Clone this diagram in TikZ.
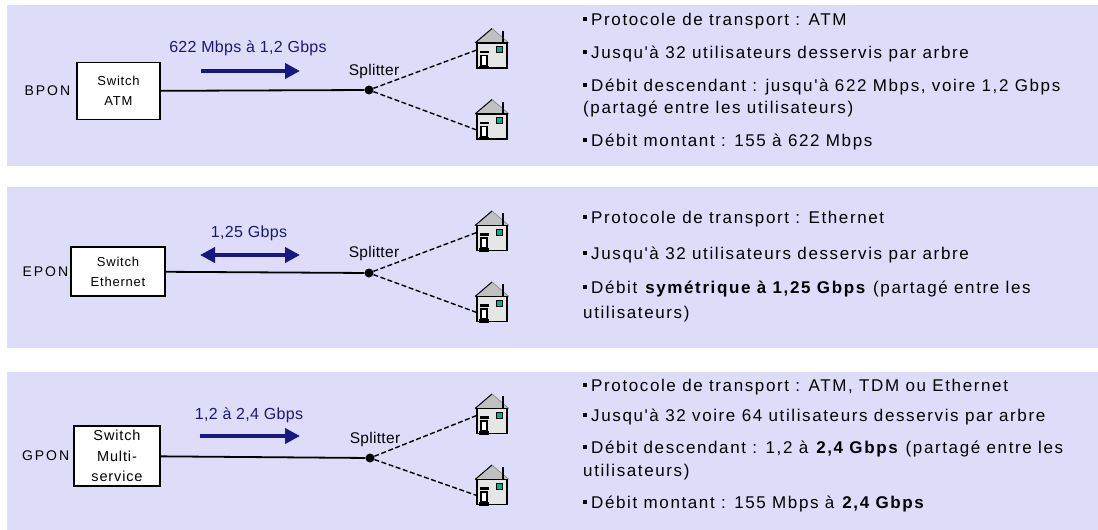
\documentclass[tikz,border=0pt]{standalone}
\usepackage{fontspec}
\setmainfont{Liberation Sans}
\newfontfamily\txtfont{Liberation Sans}[LetterSpace=9.5]
\newfontfamily\lblfont{Liberation Sans}[LetterSpace=6]
\newfontfamily\ponfont{Liberation Sans}[LetterSpace=14]
\newfontfamily\ratefont{Liberation Sans}[LetterSpace=2]
\usetikzlibrary{arrows.meta}
\definecolor{panelbg}{RGB}{221,221,250}
\definecolor{navyblue}{RGB}{24,24,128}
\definecolor{roofgray}{RGB}{192,192,192}
\definecolor{wallgray}{RGB}{230,230,230}
\definecolor{wingreen}{RGB}{0,176,140}
\newcommand{\bul}{\rule[4pt]{4pt}{4pt}\hspace{4pt}}
\tikzset{
  panel/.style={fill=panelbg, draw=none},
  switchbox/.style={draw, line width=1.3pt, fill=white, align=center,
    font=\lblfont\fontsize{13}{20}\selectfont, inner sep=0pt},
  ponlabel/.style={anchor=east, font=\ponfont\fontsize{14}{16}\selectfont, inner sep=0pt},
  splitdot/.style={circle, fill=black, minimum size=9pt, inner sep=0pt},
  splitlabel/.style={font=\ratefont\fontsize{15.5}{17}\selectfont, inner sep=0pt},
  ratelabel/.style={text=navyblue, font=\ratefont\fontsize{16}{18}\selectfont, inner sep=0pt},
  fibre/.style={line width=1.8pt},
  dropline/.style={line width=1.4pt, dash pattern=on 5pt off 2.5pt},
  ratearrow/.style={draw=navyblue, line width=4.5pt, -{Triangle[length=15pt,width=15pt]}},
  ratearrowtwo/.style={draw=navyblue, line width=4.5pt,
    {Triangle[length=15pt,width=15pt]}-{Triangle[length=15pt,width=15pt]}},
  housebox/.style={minimum width=30pt, minimum height=25pt, inner sep=0pt},
  info/.style={anchor=base west, inner sep=0pt, font=\txtfont\fontsize{17}{20}\selectfont},
  house/.pic={
    \fill[roofgray] (-17,-12.5) -- (0,-27) -- (17,-12.5) -- cycle;
    \draw[line width=1pt] (-17,-12.5) -- (0,-27);
    \draw[line width=0.6pt, gray] (0,-27) -- (17,-12.5);
    \draw[line width=1.6pt] (11,-25) -- (11,-12.5);
    \draw[fill=wallgray, line width=1.2pt] (-15,-12.5) rectangle (15,12.5);
    \draw[fill=wingreen, line width=0.8pt] (4,-9) rectangle (10,-3);
    \fill[black] (-12,-5) rectangle (-3,-2.5);
    \draw[fill=white, line width=1.2pt] (-11,0) rectangle (-5,10);
    \fill[black] (-13,10) rectangle (-3,13.5);
  }
}
\begin{document}
\begin{tikzpicture}[x=1pt, y=-1pt]
\useasboundingbox (0,0) rectangle (1098,530);
% ---------- panel 1 : BPON ----------
\fill[panel] (7,5) rectangle (1098,166);
\node[switchbox, minimum width=83pt, minimum height=57pt] (sw1) at (118.5,91) {Switch\\ATM};
\node[ponlabel] (pon1) at ([xshift=-6pt]sw1.west) {BPON};
\node[splitdot] (sp1) at (369,90) {};
\node[splitlabel] (spl1) at (374,71) {Splitter};
\coordinate (r1a) at (201,71);
\coordinate (r1b) at (300,71);
\node[ratelabel] (rl1) at (248,48) {622 Mbps à 1,2 Gbps};
\node[housebox] (h1u) at (492,55.5) {};
\node[housebox] (h1l) at (492,126.5) {};
\pic at (h1u) {house};
\pic at (h1l) {house};
\draw[fibre] (sw1) -- (sp1);
\draw[ratearrow] (r1a) -- (r1b);
\draw[dropline] (sp1) -- (h1u.160);
\draw[dropline] (sp1) -- (h1l.193);
\node[info] (t11) at (583,25) {\bul Protocole de transport : ATM};
\node[info] (t12) at (583,58) {\bul Jusqu'à 32 utilisateurs desservis par arbre};
\node[info] (t13) at (583,91) {\bul Débit descendant : jusqu'à 622 Mbps, voire 1,2 Gbps};
\node[info] (t14) at (583,113) {(partagé entre les utilisateurs)};
\node[info] (t15) at (583,146) {\bul Débit montant : 155 à 622 Mbps};
% ---------- panel 2 : EPON ----------
\fill[panel] (7,187) rectangle (1098,348);
\node[switchbox, minimum width=94pt, minimum height=49pt] (sw2) at (118,271.5) {Switch\\Ethernet};
\node[ponlabel] (pon2) at ([xshift=-2pt]sw2.west) {EPON};
\node[splitdot] (sp2) at (369,273) {};
\node[splitlabel] (spl2) at (374,253) {Splitter};
\coordinate (r2a) at (200,255);
\coordinate (r2b) at (300,255);
\node[ratelabel] (rl2) at (249,233) {1,25 Gbps};
\node[housebox] (h2u) at (492,238) {};
\node[housebox] (h2l) at (492,309) {};
\pic at (h2u) {house};
\pic at (h2l) {house};
\draw[fibre] (sw2) -- (sp2);
\draw[ratearrowtwo] (r2a) -- (r2b);
\draw[dropline] (sp2) -- (h2u.160);
\draw[dropline] (sp2) -- (h2l.193);
\node[info] (t21) at (583,223) {\bul Protocole de transport : Ethernet};
\node[info] (t22) at (583,259) {\bul Jusqu'à 32 utilisateurs desservis par arbre};
\node[info] (t23) at (583,293) {\bul Débit \textbf{symétrique à 1,25 Gbps} (partagé entre les};
\node[info] (t24) at (583,318) {utilisateurs)};
% ---------- panel 3 : GPON ----------
\fill[panel] (7,372) rectangle (1098,530);
\node[switchbox, minimum width=86pt, minimum height=60pt,
      font=\lblfont\fontsize{14.5}{20.5}\selectfont] (sw3) at (117,456) {Switch\\Multi-\\service};
\node[ponlabel] (pon3) at ([xshift=-4pt]sw3.west) {GPON};
\node[splitdot] (sp3) at (370,458) {};
\node[splitlabel] (spl3) at (375,439) {Splitter};
\coordinate (r3a) at (200,436);
\coordinate (r3b) at (300,436);
\node[ratelabel] (rl3) at (249,415) {1,2 à 2,4 Gbps};
\node[housebox] (h3u) at (492,421) {};
\node[housebox] (h3l) at (492,492) {};
\pic at (h3u) {house};
\pic at (h3l) {house};
\draw[fibre] (sw3) -- (sp3);
\draw[ratearrow] (r3a) -- (r3b);
\draw[dropline] (sp3) -- (h3u.160);
\draw[dropline] (sp3) -- (h3l.193);
\node[info] (t31) at (583,391) {\bul Protocole de transport : ATM, TDM ou Ethernet};
\node[info] (t32) at (583,421) {\bul Jusqu'à 32 voire 64 utilisateurs desservis par arbre};
\node[info] (t33) at (583,453) {\bul Débit descendant : 1,2 à \textbf{2,4 Gbps} (partagé entre les};
\node[info] (t34) at (583,476) {utilisateurs)};
\node[info] (t35) at (583,508) {\bul Débit montant : 155 Mbps à \textbf{2,4 Gbps}};
\end{tikzpicture}
\end{document}
